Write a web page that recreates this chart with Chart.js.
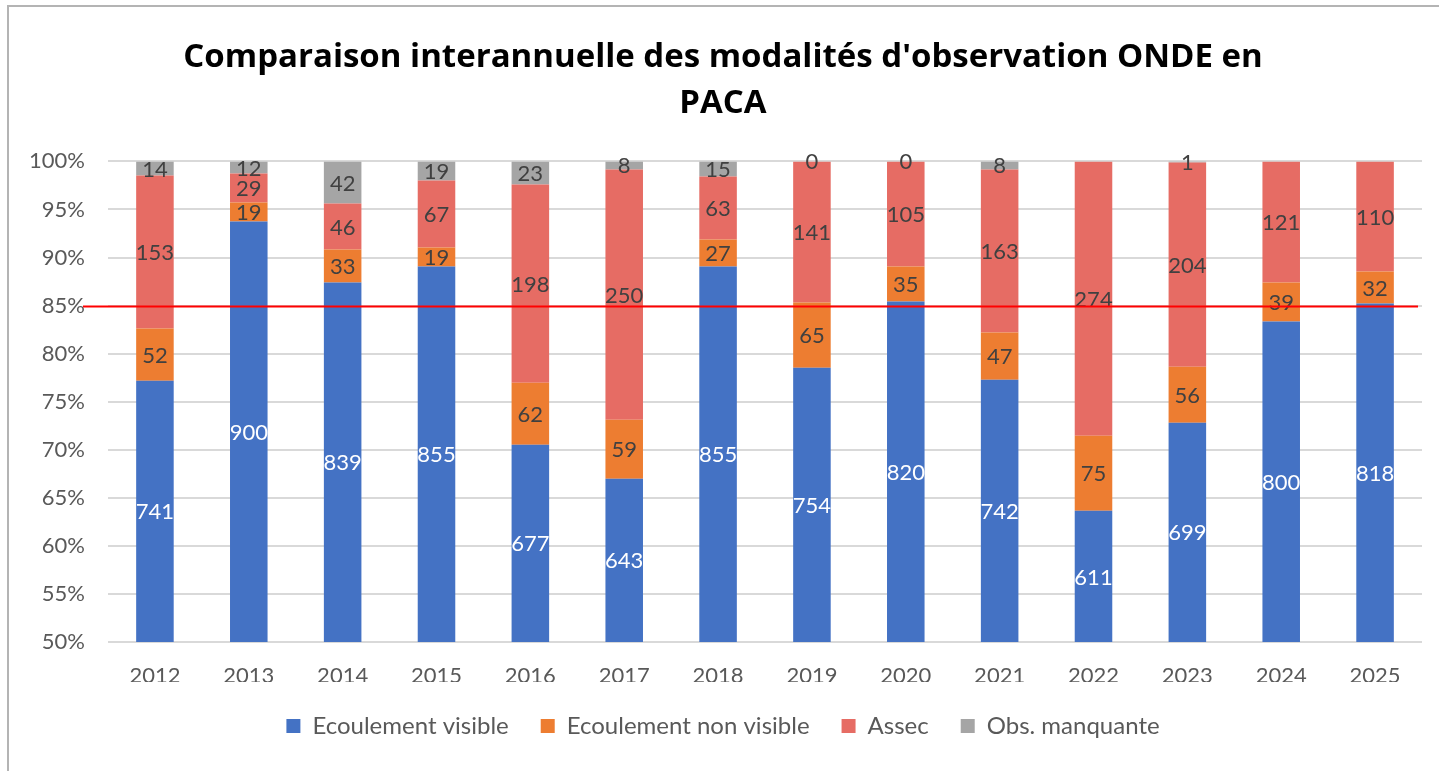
<!DOCTYPE html>
<html lang="fr">
<head>
<meta charset="utf-8">
<title>Comparaison interannuelle ONDE PACA</title>
<script src="https://cdn.jsdelivr.net/npm/chart.js@4/dist/chart.umd.min.js"></script>
<style>
  html,body{margin:0;padding:0;background:#fff}
  #wrap{position:relative;width:1439px;height:771px;overflow:hidden}
  #frame{position:absolute;left:7px;top:5px;width:1500px;height:900px;border-left:2px solid #b4b4b4;border-top:2px solid #b4b4b4;pointer-events:none}
</style>
</head>
<body>
<div id="wrap">
  <canvas id="c" width="1439" height="771"></canvas>
  <div id="frame"></div>
</div>
<script>
// annees
const years = ['2012','2013','2014','2015','2016','2017','2018','2019','2020','2021','2022','2023','2024','2025'];
// nombre d'observations par modalite
const visible    = [741, 900, 839, 855, 677, 643, 855, 754, 820, 742, 611, 699, 800, 818];
const nonVisible = [52, 19, 33, 19, 62, 59, 27, 65, 35, 47, 75, 56, 39, 32];
const assec      = [153, 29, 46, 67, 198, 250, 63, 141, 105, 163, 274, 204, 121, 110];
const manquante  = [14, 12, 42, 19, 23, 8, 15, 0, 0, 8, null, 1, null, null];
const seriesNames = ['Ecoulement visible','Ecoulement non visible','Assec','Obs. manquante'];
const seriesColors = ['#4472C4','#ED7D31','#E66C64','#A5A5A5'];
const seuil = 85; // ligne rouge

const FONT = 'Lato, "Noto Sans", sans-serif';

const totals = years.map((_, i) => visible[i] + nonVisible[i] + assec[i] + (manquante[i] || 0));
const toPct = arr => arr.map((v, i) => v == null ? null : v / totals[i] * 100);

const raw = [visible, nonVisible, assec, manquante];

// labels centered in the visible part of each segment (like excel)
const segLabels = {
  id: 'segLabels',
  afterDatasetsDraw(chart){
    const {ctx, chartArea} = chart;
    ctx.save();
    ctx.font = '22px ' + FONT;
    ctx.textAlign = 'center';
    ctx.textBaseline = 'middle';
    chart.data.datasets.forEach((ds, di) => {
      const meta = chart.getDatasetMeta(di);
      meta.data.forEach((el, i) => {
        const v = raw[di][i];
        if(v == null) return;
        const t = Math.max(Math.min(el.y, el.base), chartArea.top);
        const b = Math.min(Math.max(el.y, el.base), chartArea.bottom);
        ctx.fillStyle = di === 0 ? '#ffffff' : '#404040';
        ctx.fillText(String(v), el.x, (t + b) / 2 + 1);
      });
    });
    ctx.restore();
  }
};

const seuilLine = {
  id: 'seuilLine',
  afterDatasetsDraw(chart){
    const {ctx, chartArea, scales} = chart;
    const y = Math.round(scales.y.getPixelForValue(seuil)) + 0.5;
    ctx.save();
    ctx.strokeStyle = '#ff0000';
    ctx.lineWidth = 2;
    ctx.beginPath();
    ctx.moveTo(chartArea.left - 25, y);
    ctx.lineTo(chartArea.right - 4, y);
    ctx.stroke();
    ctx.restore();
  }
};

new Chart(document.getElementById('c'), {
  type: 'bar',
  data: {
    labels: years,
    datasets: raw.map((arr, k) => ({
      label: seriesNames[k],
      data: toPct(arr),
      backgroundColor: seriesColors[k],
      borderWidth: 0,
      categoryPercentage: 1,
      barPercentage: 0.4
    }))
  },
  options: {
    responsive: false,
    animation: false,
    layout: { padding: { left: 24, right: 17, top: 0, bottom: 23 } },
    scales: {
      x: {
        stacked: true,
        afterFit(s){ s.height = 40; },
        grid: { display: false, drawTicks: false },
        border: { display: false },
        ticks: { color: '#595959', font: { family: FONT, size: 22 }, padding: 21 }
      },
      y: {
        stacked: true,
        min: 50, max: 100,
        afterFit(s){ s.width = 84; },
        grid: { color: '#d9d9d9', lineWidth: 2, drawTicks: false },
        border: { display: false },
        ticks: { stepSize: 5, color: '#595959', font: { family: FONT, size: 22 }, padding: 23,
                 callback: v => v + '%' }
      }
    },
    plugins: {
      title: {
        display: true,
        text: ["Comparaison interannuelle des modalités d'observation ONDE en", 'PACA'],
        color: '#000',
        font: { family: '"Open Sans", ' + FONT, size: 33, weight: 'bold', lineHeight: 1.4 },
        padding: { top: 34, bottom: 35 }
      },
      legend: {
        position: 'bottom',
        labels: { color: '#595959', font: { family: FONT, size: 24 }, boxWidth: 14, boxHeight: 14, padding: 32 }
      },
      tooltip: { enabled: false }
    }
  },
  plugins: [segLabels, seuilLine]
});
</script>
</body>
</html>
